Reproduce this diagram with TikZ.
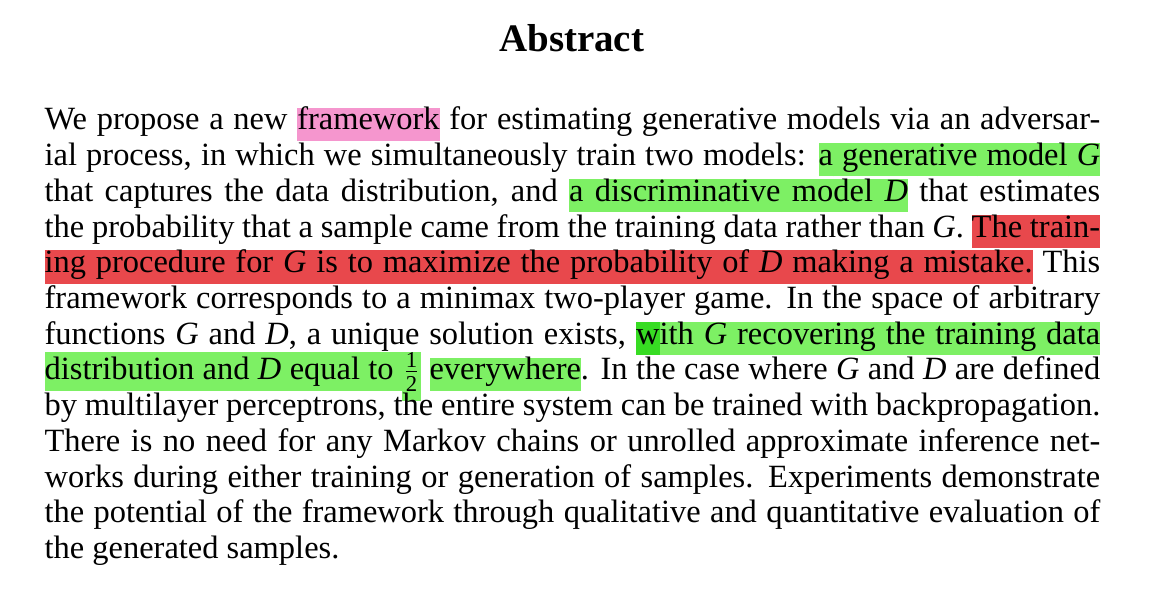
\documentclass[tikz,border=0pt]{standalone}
\usepackage{fontspec}
\setmainfont{Liberation Serif}
\usepackage{tikz}
\usetikzlibrary{positioning}
\definecolor{hlpink}{RGB}{245,150,206}
\definecolor{hlgreen}{RGB}{125,240,100}
\definecolor{hlgreendark}{RGB}{55,220,35}
\definecolor{hlred}{RGB}{232,72,76}
\newlength\abswidth
\setlength\abswidth{325.2pt}
% highlight of one box: colour, height, depth, text
\newcommand\hlbox[4]{\setbox0=\hbox{#4}\rlap{\color{#1}\rule[-#3]{\wd0}{\dimexpr#2+#3\relax}}\box0\relax}
% highlighted (stretchable) space: colour, height, depth
\newcommand\hlsp[3]{{\color{#1}\leaders\hrule height #2 depth #3\hskip\fontdimen2\font plus\fontdimen3\font minus\fontdimen4\font}}
% highlight word by word: colour, height, depth, text
\makeatletter
\def\hl@endmark{\hl@end}
\newcommand\hlw[4]{\def\hl@col{#1}\def\hl@ht{#2}\def\hl@dp{#3}\hl@word#4 \hl@end\@nil}
\def\hl@word#1 #2\@nil{\hlbox{\hl@col}{\hl@ht}{\hl@dp}{#1}\def\hl@rest{#2}%
  \ifx\hl@rest\hl@endmark\else\hlsp{\hl@col}{\hl@ht}{\hl@dp}\expandafter\hl@word\hl@rest\@nil\fi}
\makeatother
\newcommand\hlt[2]{\hlw{#1}{6.9pt}{3.3pt}{#2}}
\newcommand\frachalf{$\frac{\mbox{\scriptsize 1}}{\mbox{\scriptsize 2}}$}

\begin{document}
\begin{tikzpicture}[x=1pt, y=1pt,
          txtline/.style={anchor=base west, inner sep=0pt, font=\fontsize{10pt}{11pt}\selectfont},
          heading/.style={anchor=base, inner sep=0pt, font=\fontsize{12pt}{14pt}\selectfont\bfseries}]
          \useasboundingbox (0,0) rectangle (357.67,-183.6);

          % Title
          \node[heading] (title) at (176.15,-15.9) {Abstract};

          % Lines of the abstract
          \node[txtline] (l1) at (13.55,-40.05) {\hbox to\abswidth{We propose a new \hlt{hlpink}{framework} for estimating generative models via an adversar-}};
          \node[txtline] (l2) at (13.55,-51.05) {\hbox to\abswidth{ial process, in which we simultaneously train two models: \hlt{hlgreen}{a generative model \textit{G}}}};
          \node[txtline] (l3) at (13.55,-62.05) {\hbox to\abswidth{that captures the data distribution, and \hlt{hlgreen}{a discriminative model \textit{D}} that estimates}};
          \node[txtline] (l4) at (13.55,-73.05) {\hbox to\abswidth{the probability that a sample came from the training data rather than \textit{G}. \hlt{hlred}{The train-}}};
          \node[txtline] (l5) at (13.55,-84.05) {\hbox to\abswidth{\hlt{hlred}{ing procedure for \textit{G} is to maximize the probability of \textit{D} making a mistake.} This}};
          \node[txtline] (l6) at (13.55,-95.05) {\hbox to\abswidth{framework corresponds to a minimax two-player game. In the space of arbitrary}};
          \node[txtline] (l7) at (13.55,-106.05) {\hbox to\abswidth{functions \textit{G} and \textit{D}, a unique solution exists, \hlbox{hlgreendark}{6.9pt}{3.3pt}{w}\hlt{hlgreen}{ith \textit{G} recovering the training data}}};
          \node[txtline] (l8) at (13.55,-117.05) {\hbox to\abswidth{\hlw{hlgreen}{8.7pt}{3.4pt}{distribution and \textit{D} equal to}\hlsp{hlgreen}{8.7pt}{3.4pt}\hlbox{hlgreen}{8.7pt}{6.4pt}{\frachalf} \hlt{hlgreen}{everywhere}. In the case where \textit{G} and \textit{D} are defined}};
          \node[txtline] (l9) at (13.55,-128.05) {\hbox to\abswidth{by multilayer perceptrons, the entire system can be trained with backpropagation.}};
          \node[txtline] (l10) at (13.55,-139.05) {\hbox to\abswidth{There is no need for any Markov chains or unrolled approximate inference net-}};
          \node[txtline] (l11) at (13.55,-150.05) {\hbox to\abswidth{works during either training or generation of samples. Experiments demonstrate}};
          \node[txtline] (l12) at (13.55,-161.05) {\hbox to\abswidth{the potential of the framework through qualitative and quantitative evaluation of}};
          \node[txtline] (l13) at (13.55,-172.05) {the generated samples.};
        \end{tikzpicture}
\end{document}
